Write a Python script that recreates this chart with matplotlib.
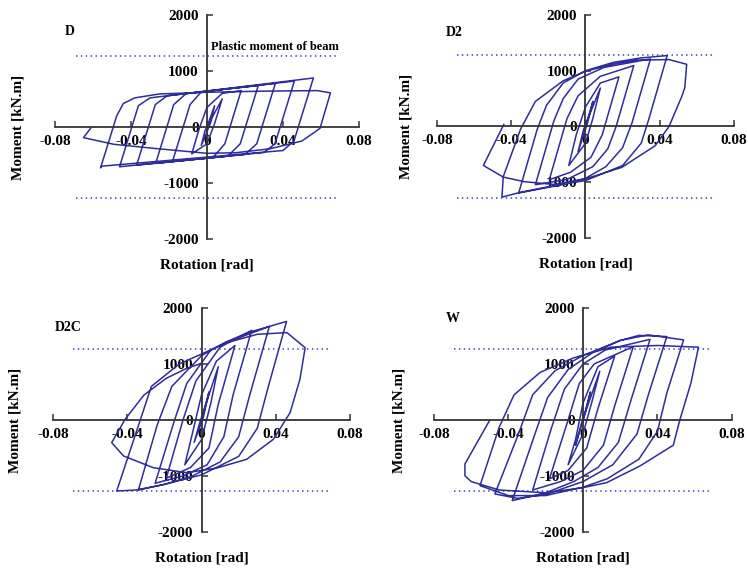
import matplotlib
matplotlib.use("Agg")
import matplotlib.pyplot as plt

plt.rcParams['font.family'] = ['Liberation Serif', 'DejaVu Serif']
plt.rcParams['font.weight'] = 'bold'
plt.rcParams['axes.unicode_minus'] = False

# hysteresis paths: rotation [rad], moment [kN.m]
d_rot = [0, 0.004, 0.002, -0.003, -0.001, 0.008, 0.004, 0.0, -0.008, -0.004, 0.0, 0.008,
         0.018, 0.0094, 0.003, -0.018, -0.0089, -0.003,
         0.027, 0.0175, 0.011, -0.027, -0.0175, -0.011,
         0.036, 0.0262, 0.020, -0.037, -0.0272, -0.021,
         0.046, 0.0358, 0.030, -0.046, -0.0361, -0.030,
         0.056, 0.0458, 0.040, -0.0555, -0.056, -0.0475, -0.044, -0.038, -0.025, 0.0, 0.03, 0.058,
         0.065, 0.0595, 0.050, 0.033, 0.015, 0.0, -0.028, -0.049, -0.065, -0.061]
d_mom = [0, 380, 80, -330, -60, 500, 60, -300, -480, -20, 350, 600,
         650, -300, -550, -600, 400, 628,
         740, -300, -520, -650, 400, 596,
         780, -300, -490, -680, 400, 556,
         820, -300, -455, -710, 380, 520,
         875, -250, -420, -700, -730, 200, 420, 520, 590, 620, 640, 650,
         610, -24, -250, -390, -460, -470, -381, -309, -190, -12]

d2_rot = [0, 0.004, 0.001, -0.004, -0.001, 0.008, 0.004, 0.0, -0.009, -0.005, 0.0, 0.008,
          0.018, 0.009, 0.003, -0.008, -0.0195, -0.010, -0.004, 0.008,
          0.026, 0.0165, 0.012, 0.004, -0.010, -0.027, -0.017, -0.012, -0.004, 0.010,
          0.035, 0.025, 0.020, 0.011, 0.0, -0.015, -0.036, -0.026, -0.021, -0.012, 0.0, 0.015, 0.030,
          0.044, 0.034, 0.030, 0.020, 0.0, -0.020, -0.035, -0.045, -0.0443, -0.035, -0.027, -0.012,
          0.0, 0.015, 0.027, 0.045,
          0.0545, 0.0535, 0.052, 0.045, 0.0375, 0.0195, 0.0, -0.017, -0.033, -0.0443, -0.055, -0.044]
d2_mom = [0, 450, 50, -450, -50, 690, 150, -300, -700, -150, 350, 780,
          890, -150, -550, -820, -955, 140, 550, 900,
          1093, 0, -400, -720, -950, -1045, 105, 500, 850, 1060,
          1212, 60, -380, -720, -930, -1060, -1194, -50, 380, 780, 1000, 1150, 1230,
          1272, 120, -300, -700, -970, -1080, -1180, -1267, -900, -50, 450, 820,
          990, 1120, 1190, 1200,
          1116, 700, 550, 0, -346, -734, -940, -1040, -990, -908, -699, 36]

d2c_rot = [0, 0.004, 0.001, -0.004, -0.001, 0.009, 0.005, 0.0, -0.009, -0.005, 0.0, 0.008,
           0.018, 0.009, 0.004, -0.006, -0.019, -0.010, -0.003, 0.010,
           0.027, 0.017, 0.012, 0.003, -0.010, -0.025, -0.015, -0.008, 0.005, 0.013,
           0.0365, 0.026, 0.020, 0.010, -0.005, -0.020, -0.034, -0.024, -0.016, 0.0, 0.013, 0.025,
           0.0458, 0.036, 0.030, 0.020, 0.0, -0.020, -0.035, -0.0457, -0.034, -0.027, -0.012, 0.0136,
           0.030, 0.046,
           0.0558, 0.053, 0.0477, 0.0387, 0.0243, 0.008, -0.008, -0.026, -0.042, -0.0484, -0.0412,
           -0.031, -0.019, -0.008, 0.0]
d2c_mom = [0, 500, 50, -400, -50, 950, 300, -350, -800, -250, 450, 1050,
           1330, 280, -500, -850, -1040, 0, 700, 1300,
           1600, 450, -300, -800, -1000, -1130, -50, 650, 1250, 1380,
           1670, 450, -300, -750, -1000, -1150, -1250, -100, 600, 1150, 1390, 1560,
           1760, 600, -150, -650, -980, -1150, -1250, -1268, -100, 600, 1000, 1380,
           1530, 1560,
           1290, 726, 131, -345, -702, -860, -941, -852, -643, -405, 11,
           446, 744, 922, 1011]

w_rot = [0, 0.004, 0.001, -0.004, -0.001, 0.009, 0.005, 0.0, -0.008, -0.004, 0.0, 0.008,
         0.017, 0.008, 0.002, -0.008, -0.018, -0.008, -0.002, 0.006,
         0.027, 0.017, 0.011, 0.0, -0.012, -0.027, -0.017, -0.010, 0.0, 0.012,
         0.036, 0.026, 0.019, 0.008, -0.005, -0.020, -0.038, -0.026, -0.019, -0.008, 0.005, 0.020, 0.030,
         0.045, 0.035, 0.029, 0.016, 0.0, -0.020, -0.035, -0.0473, -0.035, -0.027, -0.015, 0.0, 0.020, 0.035,
         0.054, 0.045, 0.040, 0.030, 0.013, 0.0, -0.020, -0.040, -0.0553, -0.045, -0.037, -0.023, -0.005,
         0.015, 0.040,
         0.062, 0.058, 0.052, 0.0485, 0.0306, 0.0127, 0.0, -0.020, -0.045, -0.060, -0.0634, -0.0634, -0.050]
w_mom = [0, 500, 100, -450, -80, 870, 350, -250, -800, -350, 300, 950,
         1140, 200, -500, -900, -1050, 0, 650, 1000,
         1310, 250, -450, -900, -1100, -1250, -150, 550, 1000, 1250,
         1440, 380, -400, -850, -1100, -1300, -1440, -270, 400, 900, 1200, 1420, 1510,
         1490, 440, -250, -800, -1100, -1330, -1400, -1321, -280, 450, 880, 1150, 1420, 1520,
         1430, 480, -200, -700, -1050, -1200, -1350, -1350, -1173, -130, 450, 850, 1110,
         1300, 1330,
         1300, 666, 0, -450, -821, -1119, -1208, -1300, -1250, -1100, -995, -786, 0]

specimens = ['D', 'D2', 'D2C', 'W']
paths = [(d_rot, d_mom), (d2_rot, d2_mom), (d2c_rot, d2c_mom), (w_rot, w_mom)]
plastic_moment = 1275
plastic_span = 0.069

x_ticks = [-0.08, -0.04, 0, 0.04, 0.08]
x_labels = ['-0.08', '-0.04', '0', '0.04', '0.08']
y_ticks = [-2000, -1000, 0, 1000, 2000]

# axes boxes in figure fractions
boxes = [[0.0735, 0.5807, 0.4064, 0.393],
         [0.5842, 0.5825, 0.3971, 0.3912],
         [0.0709, 0.0667, 0.3971, 0.393],
         [0.5802, 0.0667, 0.3984, 0.393]]
ylabel_x = [-0.12, -0.105, -0.128, -0.117]
tag_pos = [(0.033, 0.925), (0.03, 0.92), (0.007, 0.915), (0.04, 0.955)]

fig = plt.figure(figsize=(7.48, 5.70), dpi=100)
line_col = '#2d2d9c'
dot_col = '#5a5ac8'

for i, name in enumerate(specimens):
    ax = fig.add_axes(boxes[i])
    ax.set_xlim(-0.08, 0.08)
    ax.set_ylim(-2000, 2000)
    for s in ['top', 'right']:
        ax.spines[s].set_visible(False)
    for s in ['left', 'bottom']:
        ax.spines[s].set_position(('data', 0))
        ax.spines[s].set_color('#333333')
        ax.spines[s].set_linewidth(1.3)
    ax.set_xticks(x_ticks)
    ax.set_xticklabels(x_labels)
    ax.set_yticks(y_ticks)
    ax.tick_params(direction='in', length=4, width=1.1, color='#333333', labelsize=11)
    ax.tick_params(axis='x', pad=5.5)
    ax.tick_params(axis='y', pad=6)
    for lab in ax.get_xticklabels() + ax.get_yticklabels():
        lab.set_fontweight('bold')

    ax.plot([-plastic_span, plastic_span], [plastic_moment, plastic_moment],
            color=dot_col, lw=1.3, dashes=(0.8, 1.9))
    ax.plot([-plastic_span, plastic_span], [-plastic_moment, -plastic_moment],
            color=dot_col, lw=1.3, dashes=(0.8, 1.9))

    rot, mom = paths[i]
    ax.plot(rot, mom, color=line_col, lw=1.1)

    ax.text(tag_pos[i][0], tag_pos[i][1], name, transform=ax.transAxes,
            fontsize=10, fontweight='bold', ha='left', va='center')
    ax.text(0.5, -0.118, 'Rotation [rad]', transform=ax.transAxes,
            fontsize=11, fontweight='bold', ha='center', va='center')
    ax.text(ylabel_x[i], 0.5, 'Moment [kN.m]', transform=ax.transAxes,
            fontsize=11, fontweight='bold', ha='center', va='center', rotation=90)
    if i == 0:
        ax.text(0.002, 1430, 'Plastic moment of beam', fontsize=9,
                fontweight='bold', ha='left', va='center')

fig.savefig('out.png', dpi=100)
